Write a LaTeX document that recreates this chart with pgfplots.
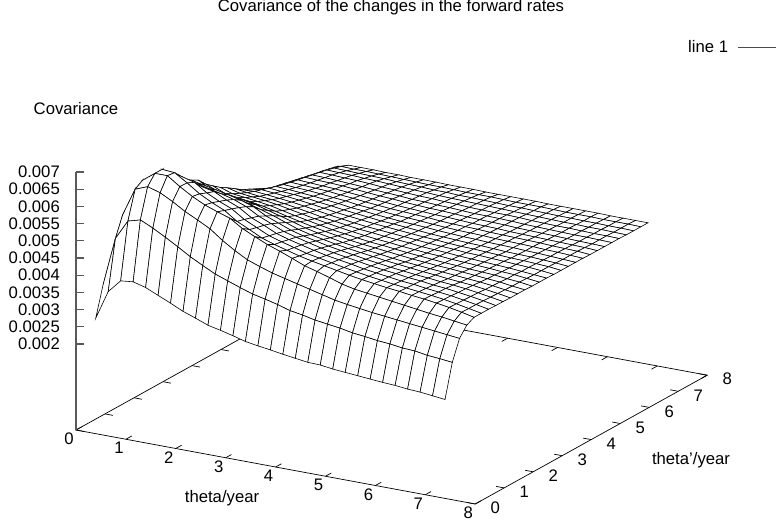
\documentclass[border=0pt]{standalone}
\usepackage{fontspec}
\setmainfont{Liberation Sans}
\usepackage{pgfplots}
\pgfplotsset{compat=1.18}
\tikzset{lab/.style={font=\fontsize{16.7}{19}\selectfont,inner sep=0pt}}
\begin{document}
\begin{tikzpicture}
\begin{axis}[
  hide axis, clip=false,
  x={(49.9pt,-9.25pt)}, y={(29pt,16.1pt)}, z={(0pt,34.4pt)},
  xmin=0, xmax=8, ymin=0, ymax=8, zmin=-0.5, zmax=7,
]
\coordinate (o) at (axis cs:0,0,-0.5);
% base frame and its ticks
\draw[line width=0.7pt] (axis cs:0,0,-0.5) -- (axis cs:8,0,-0.5) -- (axis cs:8,8,-0.5) -- (axis cs:0,8,-0.5) -- cycle;
\pgfplotsinvokeforeach{0,1,...,8}{
  \draw[line width=0.7pt] (axis cs:#1,0,-0.5) -- (axis cs:#1,0.2,-0.5);
  \draw[line width=0.7pt] (axis cs:#1,8,-0.5) -- (axis cs:#1,7.8,-0.5);
  \draw[line width=0.7pt] (axis cs:8,#1,-0.5) -- (axis cs:7.84,#1,-0.5);
  \draw[line width=0.7pt] (axis cs:0,#1,-0.5) -- (axis cs:0.16,#1,-0.5);
  \node[lab] at ([xshift=-7pt,yshift=-9pt]axis cs:#1,0,-0.5) {#1};
  \node[lab] at ([xshift=20pt,yshift=-4pt]axis cs:8,#1,-0.5) {#1};
}
% z axis, values in units of 0.001
\draw[line width=1.3pt,black!65] (axis cs:0,0,-0.5) -- (axis cs:0,0,7);
\pgfplotsinvokeforeach{2,2.5,...,7}{
  \draw[line width=1.3pt,black!65] (axis cs:0,0,#1) -- ([xshift=8pt]axis cs:0,0,#1);
}
\node[lab,anchor=east] at ([xshift=-16pt]axis cs:0,0,2) {0.002};
\node[lab,anchor=east] at ([xshift=-16pt]axis cs:0,0,2.5) {0.0025};
\node[lab,anchor=east] at ([xshift=-16pt]axis cs:0,0,3) {0.003};
\node[lab,anchor=east] at ([xshift=-16pt]axis cs:0,0,3.5) {0.0035};
\node[lab,anchor=east] at ([xshift=-16pt]axis cs:0,0,4) {0.004};
\node[lab,anchor=east] at ([xshift=-16pt]axis cs:0,0,4.5) {0.0045};
\node[lab,anchor=east] at ([xshift=-16pt]axis cs:0,0,5) {0.005};
\node[lab,anchor=east] at ([xshift=-16pt]axis cs:0,0,5.5) {0.0055};
\node[lab,anchor=east] at ([xshift=-16pt]axis cs:0,0,6) {0.006};
\node[lab,anchor=east] at ([xshift=-16pt]axis cs:0,0,6.5) {0.0065};
\node[lab,anchor=east] at ([xshift=-16pt]axis cs:0,0,7) {0.007};
\addplot3[surf, shader=faceted, faceted color=black, line width=0.6pt,
  colormap={wh}{color=(white) color=(white)}, mesh/cols=29]
  table[row sep=crcr, header=false, z index=0,
    x expr={0.25+0.25*mod(\coordindex,29)},
    y expr={0.25+0.25*floor(\coordindex/29)}] {
2.70\\3.54\\3.92\\3.96\\3.86\\3.70\\3.54\\3.37\\3.24\\3.10\\3.02\\2.93\\2.83\\2.77\\2.72\\2.66\\2.61\\2.56\\2.55\\2.50\\2.47\\2.44\\2.41\\2.38\\2.36\\2.32\\2.30\\2.26\\2.22\\
3.54\\4.97\\5.54\\5.64\\5.47\\5.27\\5.06\\4.84\\4.65\\4.47\\4.34\\4.21\\4.09\\4.01\\3.92\\3.81\\3.75\\3.67\\3.62\\3.57\\3.50\\3.46\\3.41\\3.38\\3.33\\3.31\\3.25\\3.22\\3.18\\
3.92\\5.54\\6.35\\6.49\\6.38\\6.19\\5.97\\5.79\\5.60\\5.33\\5.10\\4.90\\4.77\\4.65\\4.56\\4.47\\4.38\\4.29\\4.20\\4.14\\4.09\\4.04\\4.00\\3.96\\3.92\\3.88\\3.84\\3.80\\3.76\\
3.96\\5.64\\6.49\\6.76\\6.76\\6.51\\6.29\\6.11\\5.98\\5.86\\5.63\\5.46\\5.30\\5.17\\5.03\\4.88\\4.78\\4.67\\4.55\\4.47\\4.42\\4.37\\4.32\\4.27\\4.22\\4.17\\4.13\\4.08\\4.03\\
3.86\\5.47\\6.38\\6.76\\6.73\\6.50\\6.25\\6.06\\5.90\\5.65\\5.48\\5.30\\5.18\\5.08\\4.98\\4.90\\4.83\\4.76\\4.69\\4.63\\4.58\\4.53\\4.49\\4.44\\4.40\\4.35\\4.29\\4.22\\4.14\\
3.70\\5.27\\6.19\\6.51\\6.50\\6.40\\6.16\\5.98\\5.83\\5.59\\5.42\\5.25\\5.14\\5.04\\4.94\\4.87\\4.80\\4.73\\4.67\\4.61\\4.56\\4.51\\4.47\\4.43\\4.39\\4.34\\4.28\\4.21\\4.14\\
3.54\\5.06\\5.97\\6.29\\6.25\\6.16\\6.08\\5.90\\5.75\\5.52\\5.37\\5.20\\5.09\\5.00\\4.91\\4.83\\4.77\\4.71\\4.64\\4.59\\4.54\\4.49\\4.46\\4.41\\4.37\\4.33\\4.27\\4.21\\4.14\\
3.37\\4.84\\5.79\\6.11\\6.06\\5.98\\5.90\\5.80\\5.66\\5.45\\5.30\\5.14\\5.04\\4.95\\4.86\\4.79\\4.73\\4.67\\4.61\\4.56\\4.52\\4.47\\4.44\\4.39\\4.36\\4.31\\4.26\\4.20\\4.13\\
3.24\\4.65\\5.60\\5.98\\5.90\\5.83\\5.75\\5.66\\5.54\\5.34\\5.20\\5.06\\4.96\\4.88\\4.80\\4.74\\4.68\\4.62\\4.57\\4.52\\4.48\\4.44\\4.41\\4.37\\4.34\\4.30\\4.25\\4.19\\4.13\\
3.10\\4.47\\5.33\\5.86\\5.65\\5.59\\5.52\\5.45\\5.34\\5.23\\5.10\\4.97\\4.88\\4.81\\4.74\\4.68\\4.63\\4.58\\4.53\\4.49\\4.45\\4.41\\4.38\\4.34\\4.31\\4.28\\4.23\\4.18\\4.12\\
3.02\\4.34\\5.10\\5.63\\5.48\\5.42\\5.37\\5.30\\5.20\\5.10\\5.00\\4.89\\4.81\\4.74\\4.67\\4.62\\4.57\\4.53\\4.48\\4.44\\4.41\\4.38\\4.35\\4.32\\4.29\\4.26\\4.22\\4.17\\4.12\\
2.93\\4.21\\4.90\\5.46\\5.30\\5.25\\5.20\\5.14\\5.06\\4.97\\4.89\\4.81\\4.74\\4.68\\4.62\\4.57\\4.53\\4.49\\4.45\\4.41\\4.38\\4.35\\4.33\\4.30\\4.27\\4.24\\4.21\\4.16\\4.12\\
2.83\\4.09\\4.77\\5.30\\5.18\\5.14\\5.09\\5.04\\4.96\\4.88\\4.81\\4.74\\4.67\\4.62\\4.57\\4.52\\4.49\\4.45\\4.41\\4.38\\4.35\\4.32\\4.30\\4.27\\4.25\\4.23\\4.19\\4.16\\4.11\\
2.77\\4.01\\4.65\\5.17\\5.08\\5.04\\5.00\\4.95\\4.88\\4.81\\4.74\\4.68\\4.62\\4.57\\4.52\\4.48\\4.45\\4.41\\4.38\\4.35\\4.33\\4.30\\4.28\\4.26\\4.24\\4.21\\4.19\\4.15\\4.11\\
2.72\\3.92\\4.56\\5.03\\4.98\\4.94\\4.91\\4.86\\4.80\\4.74\\4.67\\4.62\\4.57\\4.52\\4.49\\4.45\\4.42\\4.39\\4.35\\4.33\\4.31\\4.28\\4.26\\4.24\\4.22\\4.20\\4.17\\4.14\\4.11\\
2.66\\3.81\\4.47\\4.88\\4.90\\4.87\\4.83\\4.79\\4.74\\4.68\\4.62\\4.57\\4.52\\4.48\\4.45\\4.42\\4.39\\4.36\\4.33\\4.31\\4.29\\4.26\\4.25\\4.23\\4.21\\4.19\\4.17\\4.14\\4.10\\
2.61\\3.75\\4.38\\4.78\\4.83\\4.80\\4.77\\4.73\\4.68\\4.63\\4.57\\4.53\\4.49\\4.45\\4.42\\4.39\\4.36\\4.33\\4.31\\4.28\\4.26\\4.25\\4.23\\4.21\\4.19\\4.18\\4.16\\4.14\\4.10\\
2.56\\3.67\\4.29\\4.67\\4.76\\4.73\\4.71\\4.67\\4.62\\4.58\\4.53\\4.49\\4.45\\4.41\\4.39\\4.36\\4.33\\4.30\\4.28\\4.26\\4.24\\4.23\\4.21\\4.19\\4.18\\4.17\\4.15\\4.13\\4.10\\
2.55\\3.62\\4.20\\4.55\\4.69\\4.67\\4.64\\4.61\\4.57\\4.53\\4.48\\4.45\\4.41\\4.38\\4.35\\4.33\\4.31\\4.28\\4.26\\4.24\\4.23\\4.21\\4.20\\4.19\\4.17\\4.16\\4.14\\4.12\\4.10\\
2.50\\3.57\\4.14\\4.47\\4.63\\4.61\\4.59\\4.56\\4.52\\4.49\\4.44\\4.41\\4.38\\4.35\\4.33\\4.31\\4.28\\4.26\\4.24\\4.23\\4.22\\4.20\\4.19\\4.18\\4.17\\4.15\\4.14\\4.12\\4.10\\
2.47\\3.50\\4.09\\4.42\\4.58\\4.56\\4.54\\4.52\\4.48\\4.45\\4.41\\4.38\\4.35\\4.33\\4.31\\4.29\\4.26\\4.24\\4.23\\4.22\\4.20\\4.19\\4.18\\4.17\\4.16\\4.14\\4.13\\4.12\\4.09\\
2.44\\3.46\\4.04\\4.37\\4.53\\4.51\\4.49\\4.47\\4.44\\4.41\\4.38\\4.35\\4.32\\4.30\\4.28\\4.26\\4.25\\4.23\\4.21\\4.20\\4.19\\4.17\\4.16\\4.15\\4.14\\4.13\\4.12\\4.11\\4.09\\
2.41\\3.41\\4.00\\4.32\\4.49\\4.47\\4.46\\4.44\\4.41\\4.38\\4.35\\4.33\\4.30\\4.28\\4.26\\4.25\\4.23\\4.21\\4.20\\4.19\\4.18\\4.16\\4.15\\4.14\\4.13\\4.12\\4.11\\4.10\\4.09\\
2.38\\3.38\\3.96\\4.27\\4.44\\4.43\\4.41\\4.39\\4.37\\4.34\\4.32\\4.30\\4.27\\4.26\\4.24\\4.23\\4.21\\4.19\\4.19\\4.18\\4.17\\4.15\\4.14\\4.13\\4.12\\4.11\\4.11\\4.10\\4.09\\
2.36\\3.33\\3.92\\4.22\\4.40\\4.39\\4.37\\4.36\\4.34\\4.31\\4.29\\4.27\\4.25\\4.24\\4.22\\4.21\\4.19\\4.18\\4.17\\4.17\\4.16\\4.14\\4.13\\4.12\\4.12\\4.11\\4.10\\4.10\\4.09\\
2.32\\3.31\\3.88\\4.17\\4.35\\4.34\\4.33\\4.31\\4.30\\4.28\\4.26\\4.24\\4.23\\4.21\\4.20\\4.19\\4.18\\4.17\\4.16\\4.15\\4.14\\4.13\\4.12\\4.11\\4.11\\4.10\\4.10\\4.09\\4.08\\
2.30\\3.25\\3.84\\4.13\\4.29\\4.28\\4.27\\4.26\\4.25\\4.23\\4.22\\4.21\\4.19\\4.19\\4.17\\4.17\\4.16\\4.15\\4.14\\4.14\\4.13\\4.12\\4.11\\4.11\\4.10\\4.10\\4.09\\4.09\\4.08\\
2.26\\3.22\\3.80\\4.08\\4.22\\4.21\\4.21\\4.20\\4.19\\4.18\\4.17\\4.16\\4.16\\4.15\\4.14\\4.14\\4.14\\4.13\\4.12\\4.12\\4.12\\4.11\\4.10\\4.10\\4.10\\4.09\\4.09\\4.09\\4.08\\
2.22\\3.18\\3.76\\4.03\\4.14\\4.14\\4.14\\4.13\\4.13\\4.12\\4.12\\4.12\\4.11\\4.11\\4.11\\4.10\\4.10\\4.10\\4.10\\4.10\\4.09\\4.09\\4.09\\4.09\\4.09\\4.08\\4.08\\4.08\\4.08\\
};
\end{axis}
\begin{scope}[x=1pt,y=1pt,shift={(o)}]
% positions in reference pixels: (X-76, 430-Y)
\node[lab,anchor=base] at (315,418) {Covariance of the changes in the forward rates};
\node[lab,anchor=base west] at (612,377) {line 1};
\draw[line width=0.7pt,black!70] (662,383) -- (700,383);
\node[lab,anchor=base west] at (-42.5,315.5) {Covariance};
\node[lab,anchor=base] at (146,-73) {theta/year};
\node[lab,anchor=base] at (615,-35) {theta'/year};
\pgfresetboundingbox
\path[use as bounding box] (-76,-99) rectangle (700,430);
\end{scope}
\end{tikzpicture}
\end{document}
